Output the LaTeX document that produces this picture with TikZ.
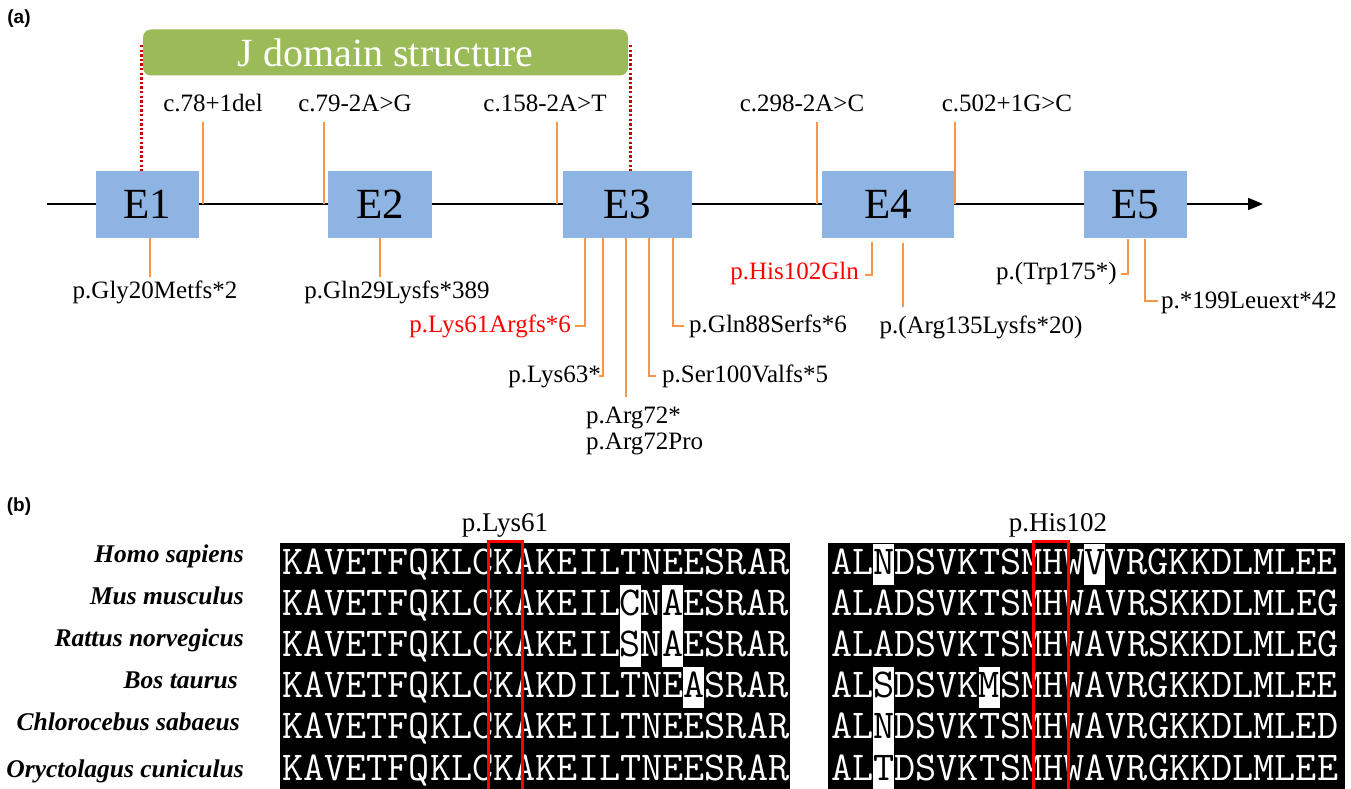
\documentclass[tikz,border=0pt]{standalone}
\usepackage{fontspec}
\setmainfont{Liberation Serif}
\newfontfamily\panelfont{Liberation Sans}
\newfontfamily\seqfont{Latin Modern Mono}
\usetikzlibrary{arrows.meta}
\definecolor{exonblue}{RGB}{141,180,226}
\definecolor{jgreen}{RGB}{155,187,89}
\definecolor{mutorange}{RGB}{247,150,70}
\definecolor{dotred}{RGB}{200,0,0}
\definecolor{mutred}{RGB}{255,0,0}
% #1 block x0, #2 row, #3 column, #4 text, #5 name
\newcommand{\seqseg}[5]{%
  \node[seqtxt] (#5) at ({#1+21.1*#3},{574+41.2*#2}) {#4};}
\newcommand{\seqhl}[5]{%
  \fill[white] ({#1+21.1*#3},{543.5+41.2*#2}) rectangle ++(21.1,41.2);
  \node[seqtxt,text=black] (#5) at ({#1+21.1*#3},{574+41.2*#2}) {#4};}
\begin{document}
\begin{tikzpicture}[x=1pt,y=-1pt,
  exon/.style={fill=exonblue,minimum height=67pt,inner sep=0pt,font=\fontsize{43}{46}\selectfont},
  lab/.style={inner sep=0pt,font=\fontsize{25}{28}\selectfont,text height=17pt,text depth=5pt},
  redlab/.style={lab,text=mutred},
  mut/.style={draw=mutorange,line width=2.2pt},
  jdot/.style={draw=dotred,line width=3pt,dash pattern=on 2.4pt off 2.2pt},
  panel/.style={inner sep=0pt,font=\panelfont\bfseries\fontsize{19}{22}\selectfont},
  species/.style={inner sep=0pt,anchor=east,font=\fontsize{25.5}{28}\selectfont\bfseries\itshape,text height=17pt,text depth=5pt},
  seqtxt/.style={inner sep=0pt,anchor=base west,font=\seqfont\fontsize{41.03}{44}\selectfont,text=white},
  posl/.style={inner sep=0pt,font=\fontsize{27}{30}\selectfont,text height=18pt,text depth=6pt}
]
\useasboundingbox (0,0) rectangle (1351,789);
\fill[white] (0,0) rectangle (1351,789);

% ---------------- panel (a) ----------------
\node[panel] (pa) at (19,19) {(a)};

\node[fill=jgreen,rounded corners=8pt,minimum width=485pt,minimum height=46pt,inner sep=0pt,
      text=white,font=\fontsize{40}{44}\selectfont] (J) at (385.5,52.5) {J domain structure};

% main line
\coordinate (Ls) at (47,204);
\coordinate (Le) at (1263,204);
\draw[line width=2pt,-{Triangle[length=15pt,width=12pt]}] (Ls) -- (Le);

% exons
\node[exon,minimum width=103pt] (E1) at (147.5,204.5) {E1};
\node[exon,minimum width=104pt] (E2) at (380,204.5) {E2};
\node[exon,minimum width=129pt] (E3) at (627.5,204.5) {E3};
\node[exon,minimum width=132pt] (E4) at (888,204.5) {E4};
\node[exon,minimum width=103pt] (E5) at (1135.5,204.5) {E5};

% J domain dotted limits
\coordinate (d1a) at (141,45);
\coordinate (d1b) at (141,171);
\coordinate (d2a) at (630,45);
\coordinate (d2b) at (630,171);
\draw[jdot] (d1a) -- (d1b);
\draw[jdot] (d2a) -- (d2b);

% top (splice) variants
\node[lab] (c78) at (213,106) {c.78+1del};
\node[lab] (c79) at (355,106) {c.79-2A>G};
\node[lab] (c158) at (545,106) {c.158-2A>T};
\node[lab] (c298) at (802,106) {c.298-2A>C};
\node[lab] (c502) at (1007,106) {c.502+1G>C};
\coordinate (t1a) at (203,204); \coordinate (t1b) at (203,122);
\coordinate (t2a) at (324,204); \coordinate (t2b) at (324,122);
\coordinate (t3a) at (557,204); \coordinate (t3b) at (557,122);
\coordinate (t4a) at (817,204); \coordinate (t4b) at (817,122);
\coordinate (t5a) at (955,204); \coordinate (t5b) at (955,122);
\draw[mut] (t1a) -- (t1b);
\draw[mut] (t2a) -- (t2b);
\draw[mut] (t3a) -- (t3b);
\draw[mut] (t4a) -- (t4b);
\draw[mut] (t5a) -- (t5b);

% bottom (protein) variants
\node[lab] (gly20) at (155,292) {p.Gly20Metfs*2};
\node[lab] (gln29) at (397,292) {p.Gln29Lysfs*389};
\node[redlab,anchor=east] (lys61) at (571,326) {p.Lys61Argfs*6};
\node[lab,anchor=east] (lys63) at (601,376) {p.Lys63*};
\node[lab,anchor=west] (arg72a) at (586,417) {p.Arg72*};
\node[lab,anchor=west] (arg72b) at (586,443) {p.Arg72Pro};
\node[lab,anchor=west] (ser100) at (662,376) {p.Ser100Valfs*5};
\node[lab,anchor=west] (gln88) at (689,326) {p.Gln88Serfs*6};
\node[redlab,anchor=east] (his102) at (859,273) {p.His102Gln};
\node[lab] (arg135) at (981,327) {p.(Arg135Lysfs*20)};
\node[lab,anchor=east] (trp175) at (1117,273) {p.(Trp175*)};
\node[lab,anchor=west] (leu199) at (1161,302) {p.*199Leuext*42};

\coordinate (b1a) at (150,238); \coordinate (b1b) at (150,277);
\coordinate (b2a) at (380,238); \coordinate (b2b) at (380,277);
\coordinate (b3a) at (585,238); \coordinate (b3b) at (575,326);
\coordinate (b4a) at (603,238); \coordinate (b4b) at (599,376);
\coordinate (b5a) at (626,238); \coordinate (b5b) at (626,397);
\coordinate (b6a) at (649,238); \coordinate (b6b) at (656,376);
\coordinate (b7a) at (673,238); \coordinate (b7b) at (684,326);
\coordinate (b8a) at (872,242); \coordinate (b8b) at (865,275);
\coordinate (b9a) at (903,243); \coordinate (b9b) at (903,307);
\coordinate (b10a) at (1128,239); \coordinate (b10b) at (1121,274);
\coordinate (b11a) at (1145,239); \coordinate (b11b) at (1158,301);
\draw[mut] (b1a) -- (b1b);
\draw[mut] (b2a) -- (b2b);
\draw[mut] (b3a) |- (b3b);
\draw[mut] (b4a) |- (b4b);
\draw[mut] (b5a) -- (b5b);
\draw[mut] (b6a) |- (b6b);
\draw[mut] (b7a) |- (b7b);
\draw[mut] (b8a) |- (b8b);
\draw[mut] (b9a) -- (b9b);
\draw[mut] (b10a) |- (b10b);
\draw[mut] (b11a) |- (b11b);

% ---------------- panel (b) ----------------
\node[panel] (pb) at (19,507) {(b)};
\node[posl] (pk61) at (505,525) {p.Lys61};
\node[posl] (ph102) at (1058,525) {p.His102};

\node[species] (sp1) at (244,556) {Homo sapiens};
\node[species] (sp2) at (244,598) {Mus musculus};
\node[species] (sp3) at (244,640) {Rattus norvegicus};
\node[species] (sp4) at (238,682) {Bos taurus};
\node[species] (sp5) at (240,724) {Chlorocebus sabaeus};
\node[species] (sp6) at (244,771) {Oryctolagus cuniculus};

\fill[black] (280,543) rectangle (790,789);
\fill[black] (828,543) rectangle (1345,789);

% block 1 (x0 = 282)
\seqseg{282}{0}{0}{KAVETFQKLCKAKEILTNEESRAR}{sa1}
\seqseg{282}{1}{0}{KAVETFQKLCKAKEIL}{sa2a}
\seqhl{282}{1}{16}{C}{ha1}
\seqseg{282}{1}{17}{N}{sa2b}
\seqhl{282}{1}{18}{A}{ha2}
\seqseg{282}{1}{19}{ESRAR}{sa2c}
\seqseg{282}{2}{0}{KAVETFQKLCKAKEIL}{sa3a}
\seqhl{282}{2}{16}{S}{ha3}
\seqseg{282}{2}{17}{N}{sa3b}
\seqhl{282}{2}{18}{A}{ha4}
\seqseg{282}{2}{19}{ESRAR}{sa3c}
\seqseg{282}{3}{0}{KAVETFQKLCKAKDILTNE}{sa4a}
\seqhl{282}{3}{19}{A}{ha5}
\seqseg{282}{3}{20}{SRAR}{sa4b}
\seqseg{282}{4}{0}{KAVETFQKLCKAKEILTNEESRAR}{sa5}
\seqseg{282}{5}{0}{KAVETFQKLCKAKEILTNEESRAR}{sa6}

% block 2 (x0 = 831)
\seqseg{831}{0}{0}{AL}{sb1a}
\seqhl{831}{0}{2}{N}{hb1}
\seqseg{831}{0}{3}{DSVKTSMHW}{sb1b}
\seqhl{831}{0}{12}{V}{hb2}
\seqseg{831}{0}{13}{VRGKKDLMLEE}{sb1c}
\seqseg{831}{1}{0}{ALADSVKTSMHWAVRSKKDLMLEG}{sb2}
\seqseg{831}{2}{0}{ALADSVKTSMHWAVRSKKDLMLEG}{sb3}
\seqseg{831}{3}{0}{AL}{sb4a}
\seqhl{831}{3}{2}{S}{hb3}
\seqseg{831}{3}{3}{DSVK}{sb4b}
\seqhl{831}{3}{7}{M}{hb4}
\seqseg{831}{3}{8}{SMHWAVRGKKDLMLEE}{sb4c}
\seqseg{831}{4}{0}{AL}{sb5a}
\seqhl{831}{4}{2}{N}{hb5}
\seqseg{831}{4}{3}{DSVKTSMHWAVRGKKDLMLED}{sb5b}
\seqseg{831}{5}{0}{AL}{sb6a}
\seqhl{831}{5}{2}{T}{hb6}
\seqseg{831}{5}{3}{DSVKTSMHWAVRGKKDLMLEE}{sb6b}

% red boxes
\draw[red,line width=3pt] (488,541) rectangle (522,800);
\draw[red,line width=3pt] (1033,541) rectangle (1068,800);
\end{tikzpicture}
\end{document}
